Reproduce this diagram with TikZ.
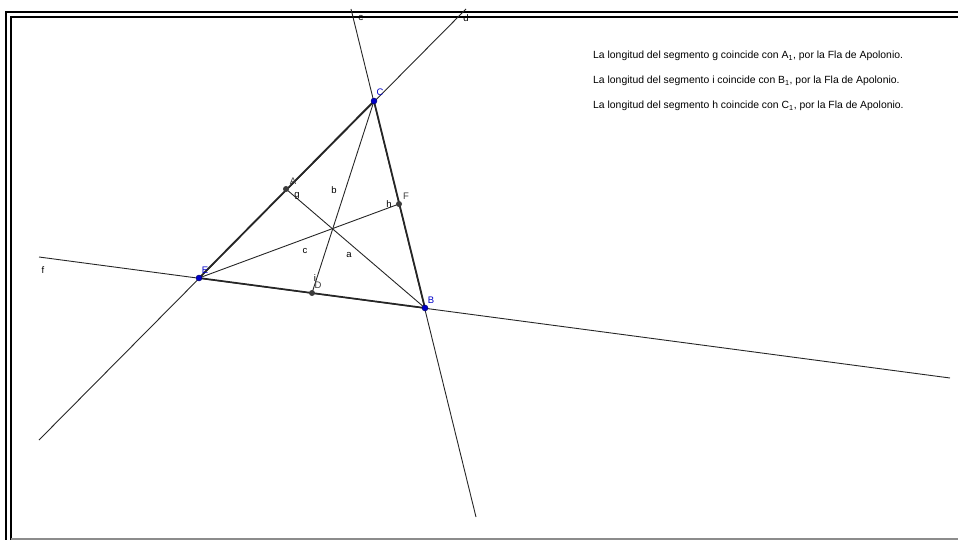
\documentclass[tikz,border=0pt]{standalone}
\usepackage{fontspec}
\setmainfont{Liberation Sans}
\usetikzlibrary{positioning,calc}
\definecolor{ptblue}{RGB}{0,0,200}
\definecolor{ptgray}{RGB}{60,60,60}
\tikzset{
  thinline/.style={line width=0.9pt, black!85},
  side/.style={line width=1.7pt, black!85},
  bluept/.style={circle, fill=ptblue, draw=ptblue!50!black, line width=0.4pt, inner sep=0pt, minimum size=6pt},
  graypt/.style={circle, fill=ptgray, inner sep=0pt, minimum size=6pt},
  lbl/.style={font=\fontsize{9.5}{10}\selectfont, inner sep=0pt},
  note/.style={font=\fontsize{10.4}{12}\selectfont, inner sep=0pt, anchor=west},
}

\begin{document}
\begin{tikzpicture}[x=1pt,y=-1pt]
\useasboundingbox (0,0) rectangle (958,540);

% marco
\draw[line width=2.5pt] (6,540) -- (6,12) -- (958,12);
\draw[line width=2.5pt] (11,540) -- (11,17) -- (958,17);
\draw[line width=1.5pt, black!45] (11,539) -- (958,539);

% vertices and feet
\coordinate (C) at (374,101);
\coordinate (E) at (199,278);
\coordinate (B) at (425,308);
\coordinate (A) at (286,189);
\coordinate (F) at (399,204);
\coordinate (D) at (312,293);

% far ends of the lines d, e, f
\coordinate (d1) at (39,440);
\coordinate (d2) at (466,9);
\coordinate (e1) at (351,9);
\coordinate (e2) at (476,517);
\coordinate (f1) at (39,257);
\coordinate (f2) at (950,378);

\draw[thinline] (d1) -- (d2);
\draw[thinline] (e1) -- (e2);
\draw[thinline] (f1) -- (f2);

\draw[side] (E) -- (C) -- (B) -- cycle;

\draw[thinline] (A) -- (B);
\draw[thinline] (C) -- (D);
\draw[thinline] (E) -- (F);

% labels of the lines and segments
\node[lbl] (ld) at (466,18) {d};
\node[lbl] (le) at (361,18) {e};
\node[lbl] (lf) at (43,270) {f};
\node[lbl] (lg) at (297,196) {g};
\node[lbl] (lb) at (334,190) {b};
\node[lbl] (lh) at (389,204) {h};
\node[lbl] (lc) at (305,251) {c};
\node[lbl] (la) at (349,255) {a};
\node[lbl] (li) at (315,278) {i};

% points
\node[graypt] (Ap) at (A) {};
\node[graypt] (Fp) at (F) {};
\node[graypt] (Dp) at (D) {};
\node[bluept] (Cp) at (C) {};
\node[bluept] (Ep) at (E) {};
\node[bluept] (Bp) at (B) {};

\node[lbl, ptgray] (nA) at (293,181) {A};
\node[lbl, ptgray] (nF) at (406,196) {F};
\node[lbl, ptgray] (nD) at (318,285) {D};
\node[lbl, ptblue] (nC) at (380,92) {C};
\node[lbl, ptblue] (nE) at (205,270) {E};
\node[lbl, ptblue] (nB) at (431,300) {B};

% texto
\node[note] (t1) at (593,56) {La longitud del segmento g coincide con A\textsubscript{1}, por la Fla de Apolonio.};
\node[note] (t2) at (593,81) {La longitud del segmento i coincide con B\textsubscript{1}, por la Fla de Apolonio.};
\node[note] (t3) at (593,106) {La longitud del segmento h coincide con C\textsubscript{1}, por la Fla de Apolonio.};
\end{tikzpicture}
\end{document}
